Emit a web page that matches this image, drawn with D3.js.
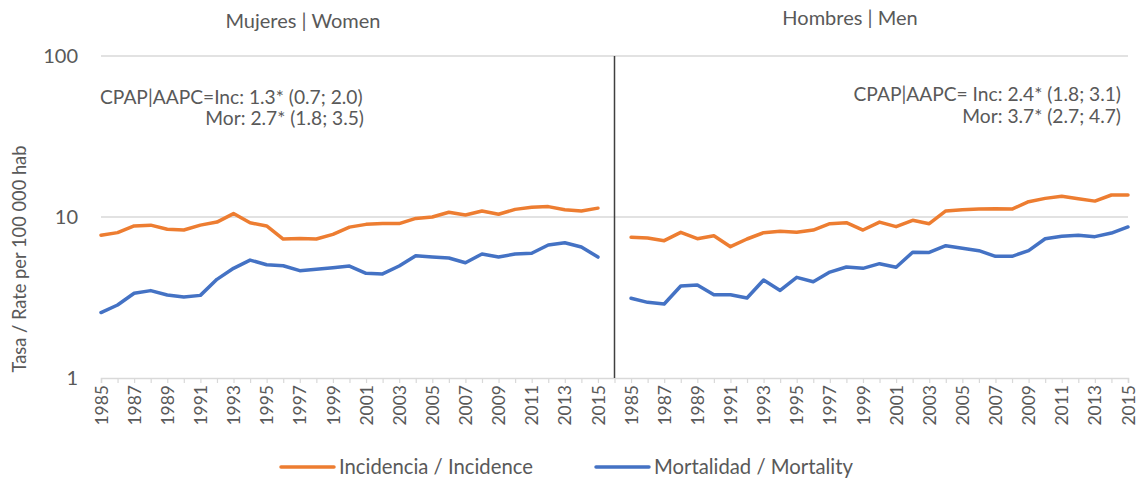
<!DOCTYPE html>
<html><head><meta charset="utf-8">
<script src="https://cdn.jsdelivr.net/npm/d3@7"></script>
<style>
html,body{margin:0;padding:0;background:#fff;}
svg text{font-family:Lato,"Open Sans",sans-serif;fill:#595959;}
</style></head>
<body>
<svg id="c" width="1139" height="480"></svg>
<script>
const years = d3.range(1985, 2016);
const womenInc = [7.7,8.0,8.8,8.9,8.4,8.3,8.9,9.3,10.5,9.2,8.8,7.3,7.35,7.3,7.8,8.65,9.0,9.1,9.1,9.8,10.0,10.7,10.3,10.9,10.4,11.15,11.5,11.6,11.1,10.9,11.35];
const womenMort = [2.55,2.84,3.36,3.49,3.28,3.18,3.26,4.1,4.8,5.4,5.05,4.98,4.64,4.73,4.84,4.96,4.47,4.43,4.96,5.75,5.64,5.56,5.2,5.89,5.64,5.89,5.95,6.7,6.92,6.51,5.64];
const menInc = [7.48,7.41,7.13,8.03,7.33,7.65,6.54,7.3,7.99,8.15,8.03,8.3,9.09,9.22,8.3,9.3,8.71,9.54,9.09,10.9,11.1,11.2,11.25,11.2,12.45,13.05,13.45,13.0,12.55,13.7,13.7];
const menMort = [3.13,2.95,2.88,3.73,3.78,3.29,3.29,3.14,4.06,3.5,4.22,3.96,4.55,4.89,4.8,5.13,4.87,6.04,6.02,6.63,6.39,6.18,5.7,5.7,6.18,7.33,7.59,7.7,7.55,7.95,8.67];
const yTicks = [1, 10, 100];
const panelTitles = ["Mujeres | Women", "Hombres | Men"];
const seriesNames = ["Incidencia / Incidence", "Mortalidad / Mortality"];
const colors = ["#ED7D31", "#4472C4"];
const notes = [
  ["CPAP|AAPC=Inc: 1.3* (0.7; 2.0)", "Mor: 2.7* (1.8; 3.5)"],
  ["CPAP|AAPC= Inc: 2.4* (1.8; 3.1)", "Mor: 3.7* (2.7; 4.7)"]
];
const yLabel = "Tasa / Rate per 100 000 hab";

const svg = d3.select("#c");
const pLeft = 101, pRight = 1128, pTop = 56, pBottom = 378;

const cats = years.map(v => "W" + v).concat(["gap"], years.map(v => "M" + v));
const x = d3.scalePoint().domain(cats).range([pLeft, pRight]);
const y = d3.scaleLog().domain([1, 100]).range([pBottom, pTop]);

// gridlines
svg.append("g").selectAll("line").data(yTicks.slice(1)).join("line")
  .attr("x1", pLeft).attr("x2", pRight)
  .attr("y1", d => y(d)).attr("y2", d => y(d))
  .attr("stroke", "#d9d9d9").attr("stroke-width", 1.5);

// y tick labels
svg.append("g").selectAll("text").data(yTicks).join("text")
  .attr("x", 78).attr("y", d => y(d) + 7)
  .attr("text-anchor", "end").attr("font-size", 20)
  .text(d => d);

// x axis
const xAxis = d3.axisBottom(x).tickSize(5).tickFormat(d => {
  if (d === "gap") return "";
  const yr = +d.slice(1);
  return (yr - 1985) % 2 === 0 ? yr : "";
});
const gx = svg.append("g").attr("transform", `translate(0,${pBottom})`).call(xAxis);
gx.select(".domain").attr("stroke", "#d9d9d9").attr("stroke-width", 1.5);
gx.selectAll(".tick line").attr("stroke", "#d9d9d9").attr("stroke-width", 1.2);
gx.selectAll(".tick text")
  .attr("font-size", 17.5).attr("fill", "#595959")
  .attr("font-family", "Lato, sans-serif")
  .attr("transform", "rotate(-90)")
  .attr("text-anchor", "end")
  .attr("x", -7).attr("y", 0).attr("dy", "0.35em");

// divider
svg.append("line").attr("x1", x("gap")).attr("x2", x("gap"))
  .attr("y1", pTop).attr("y2", pBottom)
  .attr("stroke", "#404040").attr("stroke-width", 1.5);

// lines
const line = d3.line().x(d => x(d[0])).y(d => y(d[1]));
const seriesData = [
  [years.map((yr, i) => ["W" + yr, womenInc[i]]), colors[0]],
  [years.map((yr, i) => ["W" + yr, womenMort[i]]), colors[1]],
  [years.map((yr, i) => ["M" + yr, menInc[i]]), colors[0]],
  [years.map((yr, i) => ["M" + yr, menMort[i]]), colors[1]]
];
svg.append("g").selectAll("path").data(seriesData).join("path")
  .attr("d", d => line(d[0]))
  .attr("fill", "none").attr("stroke", d => d[1])
  .attr("stroke-width", 3.5).attr("stroke-linejoin", "round").attr("stroke-linecap", "round");

// titles
svg.append("text").attr("x", 303).attr("y", 28).attr("text-anchor", "middle").attr("font-size", 20).text(panelTitles[0]);
svg.append("text").attr("x", 850).attr("y", 25).attr("text-anchor", "middle").attr("font-size", 20).text(panelTitles[1]);

// notes
svg.append("text").attr("x", 100).attr("y", 104).attr("font-size", 19.2).text(notes[0][0]);
svg.append("text").attr("x", 364).attr("y", 125).attr("text-anchor", "end").attr("font-size", 19.2).text(notes[0][1]);
svg.append("text").attr("x", 1121).attr("y", 101).attr("text-anchor", "end").attr("font-size", 19.2).text(notes[1][0]);
svg.append("text").attr("x", 1121).attr("y", 123).attr("text-anchor", "end").attr("font-size", 19.2).text(notes[1][1]);

// y label
svg.append("text").attr("transform", "translate(26,259) rotate(-90)")
  .attr("text-anchor", "middle").attr("font-size", 18.3).text(yLabel);

// legend
const legX = [281, 596];
seriesNames.forEach((n, i) => {
  svg.append("line").attr("x1", legX[i]).attr("x2", legX[i] + 53)
    .attr("y1", 467).attr("y2", 467).attr("stroke", colors[i])
    .attr("stroke-width", 3.5).attr("stroke-linecap", "round");
  svg.append("text").attr("x", legX[i] + 58).attr("y", 474).attr("font-size", 20.3).text(n);
});
</script>
</body></html>
